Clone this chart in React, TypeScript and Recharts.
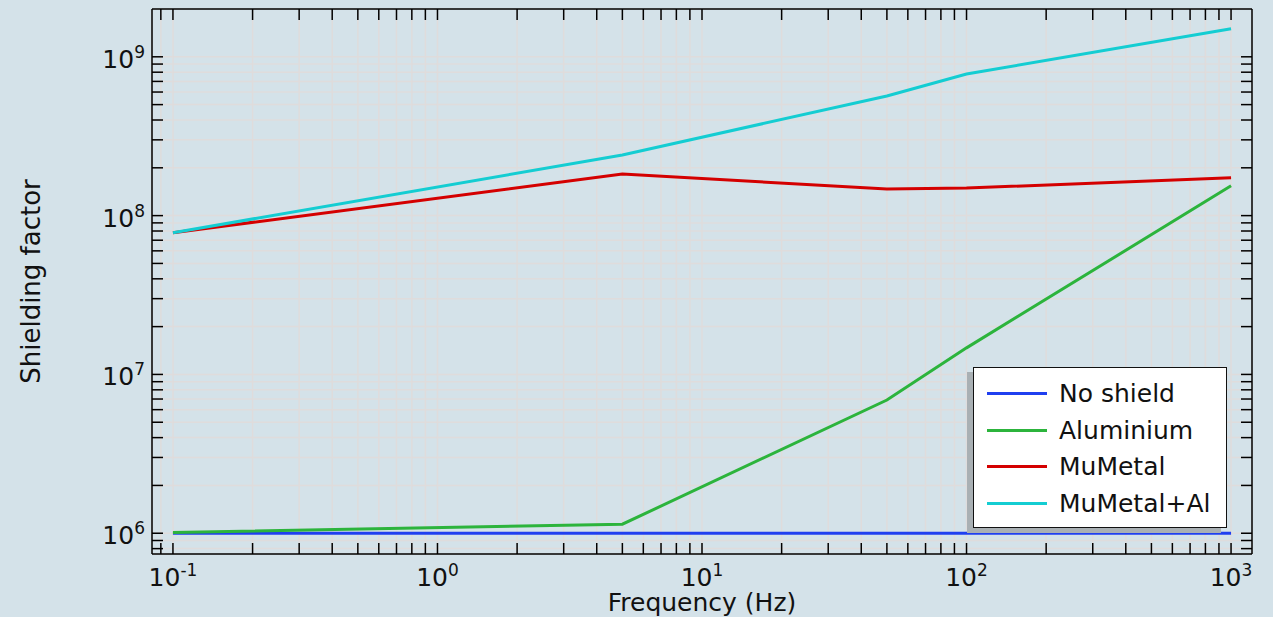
import React from 'react';
import { LineChart, Line, XAxis, YAxis, CartesianGrid, Legend } from 'recharts';

// frequency points (Hz) shared by every series
const frequencies = [0.1, 5, 50, 100, 1000];

const noShield = [1e6, 1e6, 1e6, 1e6, 1e6];
const aluminium = [1.01e6, 1.14e6, 6.9e6, 1.47e7, 1.54e8];
const muMetal = [7.8e7, 1.83e8, 1.47e8, 1.49e8, 1.73e8];
const muMetalAl = [7.8e7, 2.41e8, 5.67e8, 7.8e8, 1.5e9];

const seriesKeys = ['noShield', 'aluminium', 'muMetal', 'muMetalAl'];
const seriesNames = ['No shield', 'Aluminium', 'MuMetal', 'MuMetal+Al'];
const seriesColors = ['#1f3ff0', '#2cb43c', '#d40000', '#14cdd2'];

const xMajorTicks = [0.1, 1, 10, 100, 1000];
const yMajorTicks = [1e6, 1e7, 1e8, 1e9];
const minorSteps = [2, 3, 4, 5, 6, 7, 8, 9];

const xTicks = [0.09, ...xMajorTicks.flatMap((d) => (d < 1000 ? [d, ...minorSteps.map((m) => m * d)] : [d]))];
const yTicks = [8e5, 9e5, ...yMajorTicks.flatMap((d) => [d, ...minorSteps.map((m) => m * d)]).filter((v) => v < 2e9)];

const chartData = frequencies.map((f, i) => ({
  f,
  noShield: noShield[i],
  aluminium: aluminium[i],
  muMetal: muMetal[i],
  muMetalAl: muMetalAl[i],
}));

const BG = '#d4e2e9';
const FONT = '"DejaVu Sans", sans-serif';
const TICK_LEN = 11;

const expOf = (v: number) => String(Math.round(Math.log10(v)));

const BottomTick = (props: any) => {
  const { x, y, payload } = props;
  const v = payload.value;
  return (
    <g>
      <line x1={x} x2={x} y1={y} y2={y - TICK_LEN} stroke="#000" strokeWidth={1.5} />
      {xMajorTicks.includes(v) && (
        <text x={x} y={y + 32} textAnchor="middle" fontSize={25} fontFamily={FONT} fill="#111">
          10<tspan dy={-10} fontSize={17}>{expOf(v)}</tspan>
        </text>
      )}
    </g>
  );
};

const TopTick = (props: any) => {
  const { x, y } = props;
  return <line x1={x} x2={x} y1={y} y2={y + TICK_LEN} stroke="#000" strokeWidth={1.5} />;
};

const LeftTick = (props: any) => {
  const { x, y, payload } = props;
  const v = payload.value;
  return (
    <g>
      <line x1={x} x2={x + TICK_LEN} y1={y} y2={y} stroke="#000" strokeWidth={1.5} />
      {yMajorTicks.includes(v) && (
        <text x={x - 7} y={y + 11} textAnchor="end" fontSize={25} fontFamily={FONT} fill="#111">
          10<tspan dy={-10} fontSize={17}>{expOf(v)}</tspan>
        </text>
      )}
    </g>
  );
};

const RightTick = (props: any) => {
  const { x, y } = props;
  return <line x1={x} x2={x - TICK_LEN} y1={y} y2={y} stroke="#000" strokeWidth={1.5} />;
};

const XLabel = ({ viewBox }: any) => (
  <text x={viewBox.x + viewBox.width / 2} y={viewBox.y + 57} textAnchor="middle" fontSize={25} fontFamily={FONT} fill="#111">
    Frequency (Hz)
  </text>
);

const YLabel = ({ viewBox }: any) => {
  const cx = viewBox.x + 31;
  const cy = viewBox.y + viewBox.height / 2;
  return (
    <text x={cx} y={cy} transform={`rotate(-90 ${cx} ${cy})`} textAnchor="middle" dominantBaseline="central" fontSize={26} fontFamily={FONT} fill="#111">
      Shielding factor
    </text>
  );
};

const LegendBox = (props: any) => {
  const items = [...(props.payload || [])].sort(
    (a: any, b: any) => seriesNames.indexOf(a.value) - seriesNames.indexOf(b.value)
  );
  return (
    <div
      style={{
        width: 254,
        height: 161,
        boxSizing: 'border-box',
        background: '#fff',
        border: '1.5px solid #111',
        boxShadow: '-6px 5px 0 #a9b0b4',
        paddingTop: 7,
      }}
    >
      {items.map((entry: any) => (
        <div key={entry.value} style={{ display: 'flex', alignItems: 'center', height: 36.7 }}>
          <span style={{ display: 'inline-block', width: 60, height: 3, background: entry.color, marginLeft: 13, marginRight: 12 }} />
          <span style={{ fontSize: 25, fontFamily: FONT, color: '#111', lineHeight: '25px' }}>{entry.value}</span>
        </div>
      ))}
    </div>
  );
};

export default function App() {
  return (
    <div style={{ position: 'absolute', left: 0, top: 0, width: 1273, height: 617, background: BG }}>
      <LineChart width={1273} height={617} data={chartData} margin={{ top: 8, right: 20, bottom: 0, left: 0 }}>
        <CartesianGrid stroke="#dfdcdc" strokeWidth={1.5} />
        <XAxis
          dataKey="f"
          type="number"
          scale="log"
          domain={[1 / 12, 1200]}
          allowDataOverflow
          ticks={xTicks}
          interval={0}
          height={63}
          tickSize={0}
          tickMargin={0}
          tickLine={false}
          tick={<BottomTick />}
          axisLine={{ stroke: '#000', strokeWidth: 1.5 }}
          label={<XLabel />}
        />
        <XAxis
          xAxisId="top"
          orientation="top"
          dataKey="f"
          type="number"
          scale="log"
          domain={[1 / 12, 1200]}
          allowDataOverflow
          ticks={xTicks}
          interval={0}
          height={1}
          tickSize={0}
          tickMargin={0}
          tickLine={false}
          tick={<TopTick />}
          axisLine={{ stroke: '#000', strokeWidth: 1.5 }}
        />
        <YAxis
          type="number"
          scale="log"
          domain={[7.4e5, 2e9]}
          allowDataOverflow
          ticks={yTicks}
          interval={0}
          width={152}
          tickSize={0}
          tickMargin={0}
          tickLine={false}
          tick={<LeftTick />}
          axisLine={{ stroke: '#000', strokeWidth: 1.5 }}
          label={<YLabel />}
        />
        <YAxis
          yAxisId="right"
          orientation="right"
          type="number"
          scale="log"
          domain={[7.4e5, 2e9]}
          allowDataOverflow
          ticks={yTicks}
          interval={0}
          width={1}
          tickSize={0}
          tickMargin={0}
          tickLine={false}
          tick={<RightTick />}
          axisLine={{ stroke: '#000', strokeWidth: 1.5 }}
        />
        {seriesKeys.map((k, i) => (
          <Line
            key={k}
            dataKey={k}
            name={seriesNames[i]}
            type="linear"
            stroke={seriesColors[i]}
            strokeWidth={3}
            dot={false}
            isAnimationActive={false}
          />
        ))}
        <Legend
          layout="horizontal"
          verticalAlign="middle"
          align="center"
          width={254}
          height={161}
          wrapperStyle={{ left: 973, top: 367 }}
          content={<LegendBox />}
        />
      </LineChart>
    </div>
  );
}
